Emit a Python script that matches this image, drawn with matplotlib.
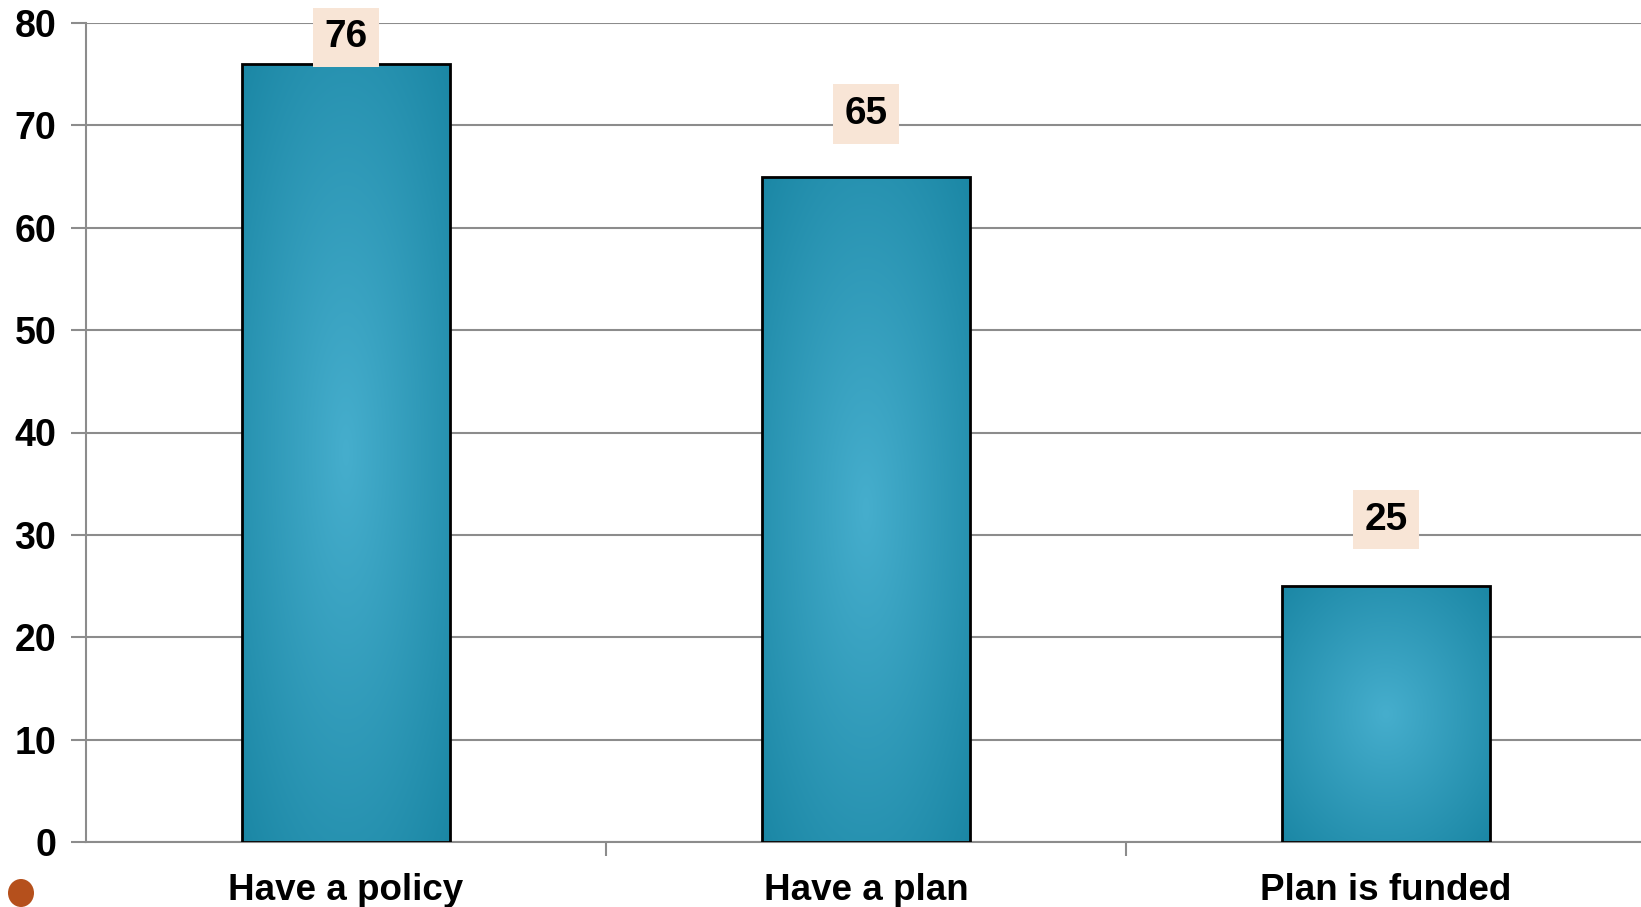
import matplotlib
matplotlib.use("Agg")
import matplotlib.pyplot as plt
from matplotlib.patches import Ellipse
import numpy as np

# chart data
categories = ["Have a policy", "Have a plan", "Plan is funded"]
values = [76, 65, 25]
label_pos = [78.6, 71.1, 31.5]   # where the value boxes sit
yticks = [0, 10, 20, 30, 40, 50, 60, 70, 80]

plt.rcParams['font.family'] = ['Liberation Sans', 'DejaVu Sans']

fig = plt.figure(figsize=(16.41, 9.07), dpi=100)
ax = fig.add_axes([86 / 1641, 1 - 842 / 907, 1560 / 1641, (842 - 23) / 907])

x = np.arange(len(categories))
width = 0.40

dark = np.array([0x1B, 0x87, 0xA5]) / 255
light = np.array([0x46, 0xAE, 0xCD]) / 255

bars = ax.bar(x, values, width, color=dark, zorder=2, linewidth=0)

# radial-ish gradient inside each bar
n = 200
u = np.linspace(-1, 1, n)
uu, vv = np.meshgrid(u, u)
r = np.clip(np.sqrt(uu ** 2 + vv ** 2) / np.sqrt(2), 0, 1)
img = light[None, None, :] * (1 - r[..., None]) + dark[None, None, :] * r[..., None]
for b in bars:
    x0 = b.get_x()
    im = ax.imshow(img, extent=(x0, x0 + b.get_width(), 0, b.get_height()),
                   aspect='auto', zorder=2.5, interpolation='bilinear')
    im.set_clip_path(b)

ax.bar(x, values, width, facecolor='none', edgecolor='black', linewidth=2, zorder=3)

for xi, lp, v in zip(x, label_pos, values):
    ax.text(xi, lp, str(v), ha='center', va='center', fontsize=28, fontweight='bold',
            zorder=4, bbox=dict(boxstyle='square,pad=0.3', facecolor='#F8E5D6', edgecolor='none'))

ax.set_xlim(-0.5, 2.5)
ax.set_ylim(0, 80)
ax.set_yticks(yticks)
ax.set_yticklabels([str(t) for t in yticks], fontsize=27, fontweight='bold')
ax.set_xticks([0.5, 1.5])
ax.set_xticklabels([])
ax.set_xticks(x, minor=True)
ax.set_xticklabels(categories, minor=True, fontsize=26.5, fontweight='bold')
ax.tick_params(axis='x', which='minor', length=0, pad=22)
ax.tick_params(axis='x', which='major', length=10, width=1.5, color='#8C8C8C')
ax.tick_params(axis='y', length=11, width=1.5, color='#8C8C8C', pad=10.5)

ax.yaxis.grid(True, color='#8C8C8C', linewidth=1.5, zorder=0)
ax.set_axisbelow(True)
for s in ['top', 'right']:
    ax.spines[s].set_visible(False)
for s in ['left', 'bottom']:
    ax.spines[s].set_color('#8C8C8C')
    ax.spines[s].set_linewidth(1.5)

# stray bullet at bottom left
fig.patches.append(Ellipse((21 / 1641, 1 - 893 / 907), 26 / 1641, 28 / 907,
                           transform=fig.transFigure, facecolor='#B5501C', edgecolor='none'))

fig.savefig("out.png", dpi=100)
